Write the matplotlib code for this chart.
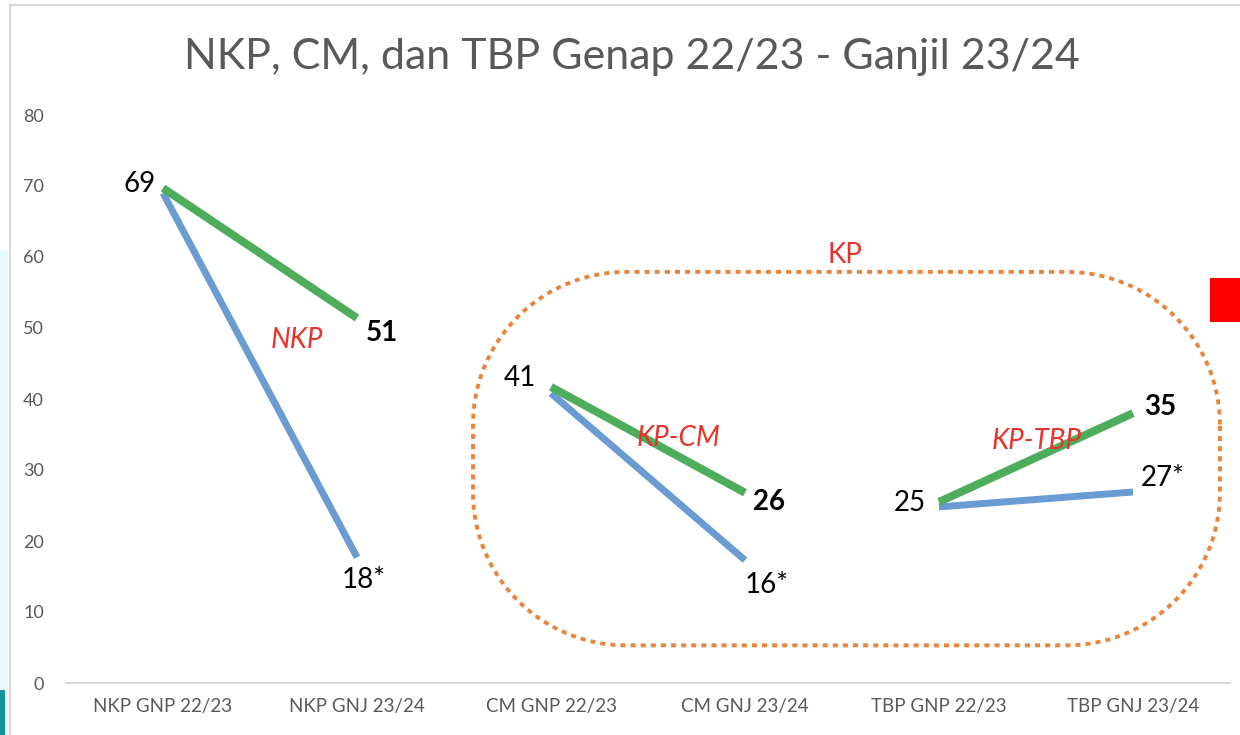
import matplotlib.pyplot as plt
import numpy as np
from matplotlib.patches import Rectangle

plt.rcParams['font.family'] = ['Lato', 'DejaVu Sans']

# categories on the x axis
categories = ["NKP GNP 22/23", "NKP GNJ 23/24", "CM GNP 22/23",
              "CM GNJ 23/24", "TBP GNP 22/23", "TBP GNJ 23/24"]

# each pair is one segment (start semester -> next semester)
blue_nkp = [69, 17.7]
blue_cm = [40.8, 17.3]
blue_tbp = [24.8, 26.9]
green_nkp = [69.7, 51.4]
green_cm = [41.7, 26.8]
green_tbp = [25.5, 38.0]

# value labels
blue_labels = ["69", "18*", "41", "16*", "25", "27*"]
green_labels = ["51", "26", "35"]

BLUE = "#6A9BD3"
GREEN = "#4EAD5B"
RED = "#E8322B"
ORANGE = "#E8853D"
GRAY = "#595959"

fig = plt.figure(figsize=(12.4, 7.35), dpi=100)
ax = fig.add_axes([66 / 1240, 52 / 735, 1164 / 1240, 568 / 735])

x = np.arange(len(categories))
pairs = [(0, 1), (2, 3), (4, 5)]
for (a, b), bl, gr in zip(pairs, [blue_nkp, blue_cm, blue_tbp], [green_nkp, green_cm, green_tbp]):
    ax.plot([x[a], x[b]], bl, color=BLUE, lw=5.0, solid_capstyle='butt')
    ax.plot([x[a], x[b]], gr, color=GREEN, lw=5.8, solid_capstyle='butt')

ax.set_xlim(-0.5, 5.5)
ax.set_ylim(0, 80)
ax.set_yticks(range(0, 81, 10))
ax.set_xticks(x)
ax.set_xticklabels(categories)
ax.tick_params(axis='y', length=0, pad=16, labelsize=13, labelcolor=GRAY)
ax.tick_params(axis='x', length=0, pad=11, labelsize=13.5, labelcolor=GRAY)
for s in ['top', 'right', 'left']:
    ax.spines[s].set_visible(False)
ax.spines['bottom'].set_color('#D9D9D9')
ax.spines['bottom'].set_linewidth(1.5)

def lab(txt, xy, off, ha, bold=False):
    ax.annotate(txt, xy=xy, xytext=off, textcoords='offset pixels', ha=ha, va='center',
                fontsize=20, color='black', fontweight='bold' if bold else 'normal')

lab(blue_labels[0], (x[0], blue_nkp[0]), (-7, 9), 'right')
lab(blue_labels[1], (x[1], blue_nkp[1]), (7, -23), 'center')
lab(blue_labels[2], (x[2], blue_cm[0]), (-15, 15), 'right')
lab(blue_labels[3], (x[3], blue_cm[1]), (22, -25), 'center')
lab(blue_labels[4], (x[4], blue_tbp[0]), (-13, 4), 'right')
lab(blue_labels[5], (x[5], blue_tbp[1]), (8, 14), 'left')
lab(green_labels[0], (x[1], green_nkp[1]), (9, -15), 'left', True)
lab(green_labels[1], (x[3], green_cm[1]), (8, -9), 'left', True)
lab(green_labels[2], (x[5], green_tbp[1]), (11, 6), 'left', True)

# group annotations
ax.text(0.69, 48.3, "NKP", color=RED, fontsize=20, style='italic', ha='center', va='center')
ax.text(2.655, 34.5, "KP-CM", color=RED, fontsize=20, style='italic', ha='center', va='center')
ax.text(4.505, 34.1, "KP-TBP", color=RED, fontsize=20, style='italic', ha='center', va='center')
ax.text(3.515, 60.3, "KP", color=RED, fontsize=20, ha='center', va='center')

# dotted rounded box around the KP group (elliptic corners in data units)
x0, x1, y0, y1 = 1.598, 5.448, 5.3, 57.9
rx, ry = 0.79, 21.5
t = np.linspace(0, np.pi / 2, 40)
corners = [
    (x1 - rx, y1 - ry, t),
    (x0 + rx, y1 - ry, t + np.pi / 2),
    (x0 + rx, y0 + ry, t + np.pi),
    (x1 - rx, y0 + ry, t + 3 * np.pi / 2),
]
bx, by = [], []
for cx, cy, tt in corners:
    bx.extend(cx + rx * np.cos(tt))
    by.extend(cy + ry * np.sin(tt))
bx.append(bx[0])
by.append(by[0])
ax.plot(bx, by, color=ORANGE, lw=2.8, linestyle=(0, (1.3, 1.3)), clip_on=False)

fig.text(632 / 1240, 1 - 57 / 735, "NKP, CM, dan TBP Genap 22/23 - Ganjil 23/24",
         ha='center', va='center', fontsize=31, color=GRAY)

# screenshot frame bits
fig.add_artist(plt.Line2D([10 / 1240, 10 / 1240], [0, 1 - 5 / 735], color='#D0D0D0', lw=1.2))
fig.add_artist(plt.Line2D([10 / 1240, 1], [1 - 5 / 735, 1 - 5 / 735], color='#D0D0D0', lw=1.2))
fig.add_artist(Rectangle((0, 45 / 735), 8 / 1240, 440 / 735, color='#E6F9FA', lw=0))
fig.add_artist(Rectangle((0, 0), 5 / 1240, 45 / 735, color='#13959A', lw=0))
fig.add_artist(Rectangle((1210 / 1240, 1 - 322 / 735), 30 / 1240, 44 / 735, color='#FF0000', lw=0))

fig.savefig("out.png", dpi=100)
